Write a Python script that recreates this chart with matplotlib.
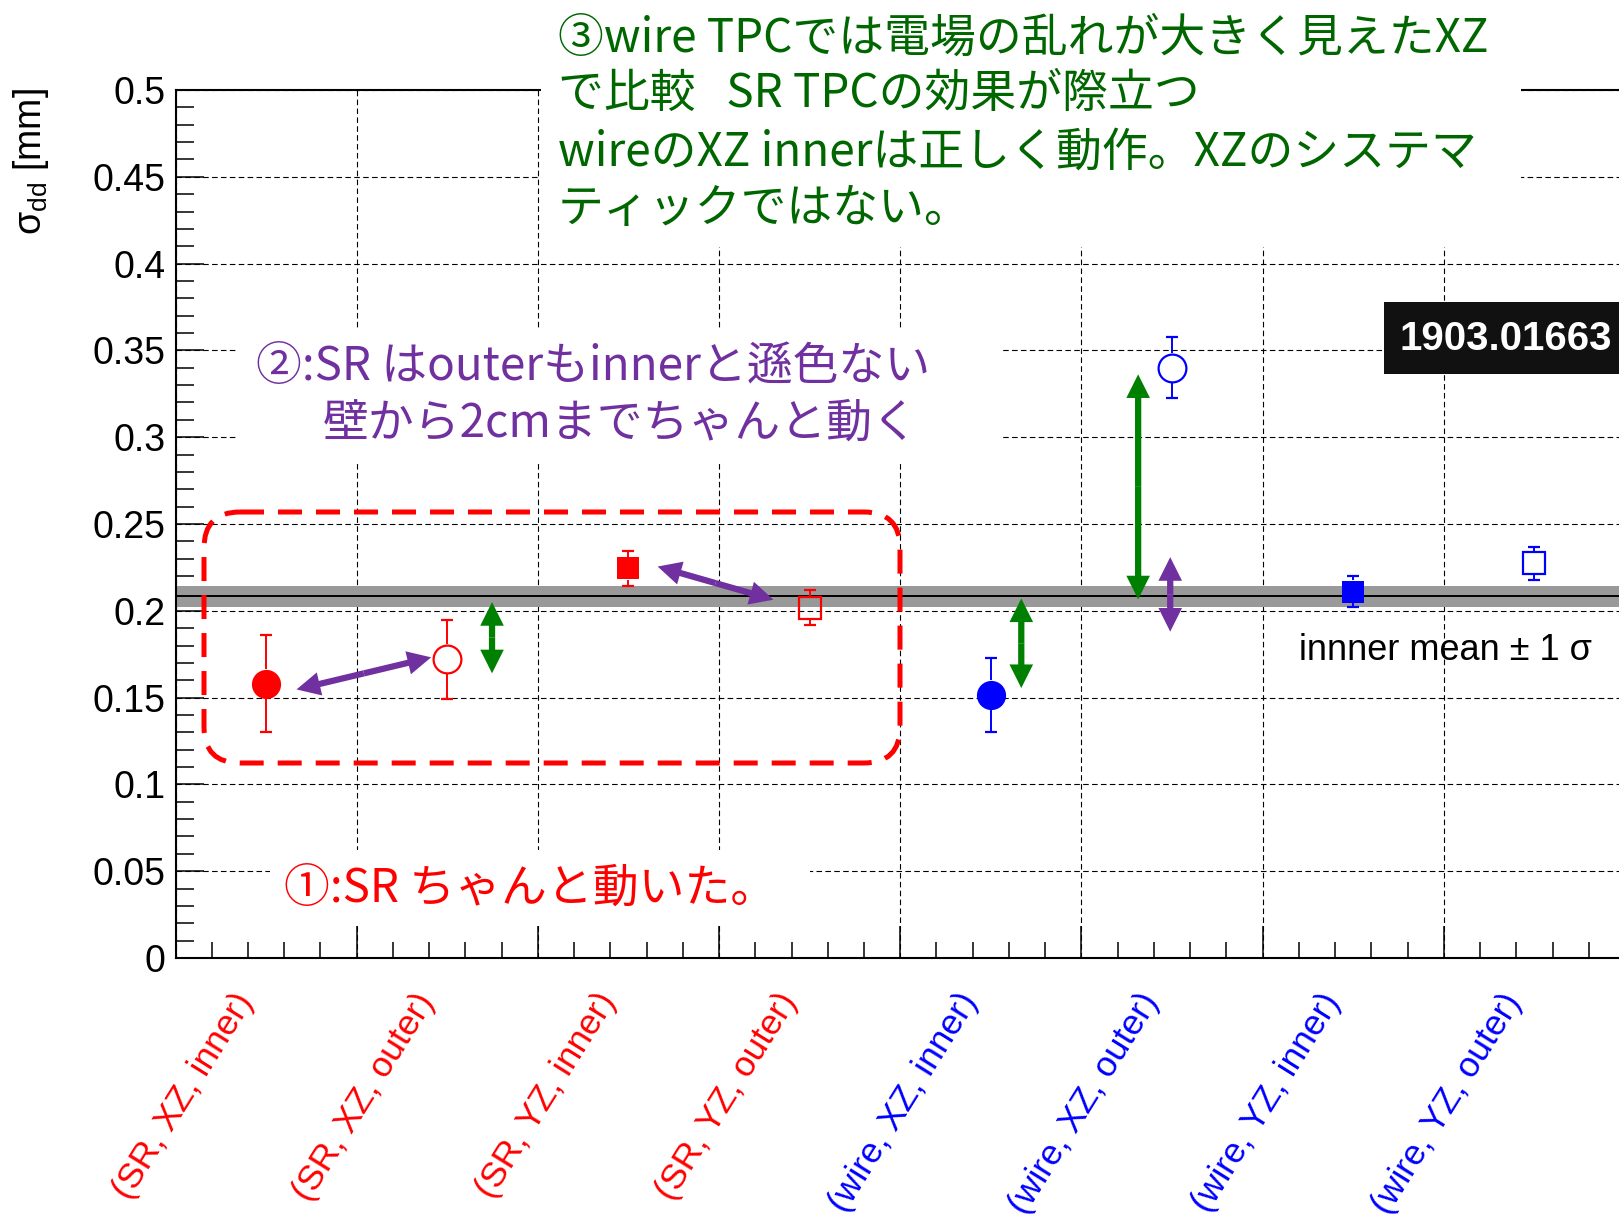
import matplotlib.pyplot as plt
import matplotlib.transforms as mtransforms
from matplotlib.patches import FancyArrowPatch, FancyBboxPatch, Rectangle
from matplotlib.ticker import MultipleLocator, FuncFormatter

plt.rcParams['font.family'] = ['Liberation Sans', 'DejaVu Sans']
plt.rcParams['mathtext.default'] = 'regular'

# 測定条件 (TPCの種類, 面, 領域)
tpc_types = ['SR', 'SR', 'SR', 'SR', 'wire', 'wire', 'wire', 'wire']
planes = ['XZ', 'XZ', 'YZ', 'YZ', 'XZ', 'XZ', 'YZ', 'YZ']
regions = ['inner', 'outer', 'inner', 'outer', 'inner', 'outer', 'inner', 'outer']

# sigma_dd [mm] と誤差
sigma_dd = [0.158, 0.172, 0.2245, 0.2017, 0.1515, 0.340, 0.211, 0.2273]
sigma_dd_err = [0.028, 0.0228, 0.010, 0.0101, 0.0215, 0.0175, 0.009, 0.0096]

# inner の平均 ± 1σ
inner_mean = 0.2083
inner_std = 0.006

categories = [f'({t}, {p}, {r})' for t, p, r in zip(tpc_types, planes, regions)]

W, H, DPI = 1619, 1217, 100
fig = plt.figure(figsize=(W / DPI, H / DPI), dpi=DPI)
# 画像のピクセル座標 (左上が原点)
px = mtransforms.Affine2D().scale(1 / DPI, -1 / DPI).translate(0, H / DPI) + fig.dpi_scale_trans

ax_left, ax_right, ax_top, ax_bottom = 175.5, 1625, 90, 958
ax = fig.add_axes([ax_left / W, 1 - ax_bottom / H, (ax_right - ax_left) / W, (ax_bottom - ax_top) / H])
ax.set_xlim(0, len(categories))
ax.set_ylim(0, 0.5)
ax.set_axisbelow(True)

# 軸とグリッド
ax.xaxis.set_major_locator(MultipleLocator(1))
ax.xaxis.set_minor_locator(MultipleLocator(0.2))
ax.yaxis.set_major_locator(MultipleLocator(0.05))
ax.yaxis.set_minor_locator(MultipleLocator(0.01))
ax.yaxis.set_major_formatter(FuncFormatter(lambda v, p: f'{v:g}'))
ax.tick_params(axis='x', which='major', direction='in', length=23, width=1.1, labelbottom=False)
ax.tick_params(axis='x', which='minor', direction='in', length=11.5, width=1.1)
ax.tick_params(axis='y', which='major', direction='in', length=20, width=1.1, labelsize=27, pad=7)
ax.tick_params(axis='y', which='minor', direction='in', length=13, width=1.1)
for s in ax.spines.values():
    s.set_linewidth(1.5)
ax.grid(True, which='major', color='black', lw=0.8, ls=(0, (5, 3)))

# inner mean ± 1σ の帯
ax.axhspan(inner_mean - inner_std, inner_mean + inner_std, color='#999999', lw=0, zorder=1)
ax.axhline(inner_mean, color='black', lw=1.4, zorder=1.5)

# 点と誤差棒 (白抜きマーカーの中は線を描かない)
colors = {'SR': '#ff0000', 'wire': '#0000ff'}
y_per_px = 0.5 / (ax_bottom - ax_top)
x_per_px = len(categories) / (ax_right - ax_left)
for i, (t, p, r) in enumerate(zip(tpc_types, planes, regions)):
    x = i + 0.5
    y = sigma_dd[i]
    e = sigma_dd_err[i]
    c = colors[t]
    is_circle = p == 'XZ'
    is_open = r == 'outer'
    half = (15 if is_circle else 11.5) * y_per_px
    ax.vlines([x, x], [y - e, y + half], [y - half, y + e], color=c, lw=1.4, zorder=3)
    cap = 6 * x_per_px
    ax.hlines([y - e, y + e], x - cap, x + cap, color=c, lw=1.6, zorder=3)
    ax.plot(x, y, marker='o' if is_circle else 's',
            ms=(20 if is_circle else 15.5) if is_open else (21 if is_circle else 16.5),
            mfc='none' if is_open else c, mec=c, mew=1.6 if is_open else 0, zorder=4)

# x軸ラベル
lab_tr = ax.get_xaxis_transform() + mtransforms.ScaledTranslation(-20 / DPI, -38 / DPI, fig.dpi_scale_trans)
for i, lab in enumerate(categories):
    ax.text(i + 0.5, 0, lab, transform=lab_tr, rotation=58, rotation_mode='anchor',
            ha='right', va='center', fontsize=25.5, color=colors[tpc_types[i]])

fig.text(31, 88, r'σ$_{dd}$ [mm]', transform=px, rotation=90, ha='center', va='top', fontsize=27)

ax.text(1299, 650, 'innner mean ± 1 σ', transform=px, ha='left', va='center', fontsize=26, zorder=6)


# 両矢印
def double_arrow(p0, p1, color):
    mid = ((p0[0] + p1[0]) / 2, (p0[1] + p1[1]) / 2)
    for end in (p0, p1):
        ax.add_patch(FancyArrowPatch(mid, end, arrowstyle='simple,head_length=17,head_width=17,tail_width=4.5',
                                     mutation_scale=1, color=color, lw=0, shrinkA=0, shrinkB=0, zorder=5))


green = '#008000'
purple = '#7030a0'
double_arrow((1.747, 0.205), (1.747, 0.164), green)
double_arrow((4.668, 0.2071), (4.668, 0.1555), green)
double_arrow((5.313, 0.3362), (5.313, 0.2066), green)
double_arrow((5.49, 0.2309), (5.49, 0.188), purple)
double_arrow((0.668, 0.1547), (1.411, 0.1732), purple)
double_arrow((2.661, 0.2255), (3.30, 0.2064), purple)

# 赤い点線の枠
fig.add_artist(FancyBboxPatch((204, 512), 696, 251, boxstyle='round,pad=0,rounding_size=36', transform=px,
                              fill=False, ec='#ff0000', lw=3.6, ls=(0, (4.8, 2.8)), zorder=2.5))

# コメント (白い背景)
for x0, y0, w, h in [(541, 0, 980, 247), (237, 330, 765, 133), (270, 850, 540, 76)]:
    fig.add_artist(Rectangle((x0, y0), w, h, transform=px, fc='white', ec='none', zorder=2))

jp = ['Noto Sans CJK JP', 'DejaVu Sans']
green_lines = ['③wire TPCでは電場の乱れが大きく見えたXZ',
               'で比較   SR TPCの効果が際立つ',
               'wireのXZ innerは正しく動作。XZのシステマ',
               'ティックではない。']
for yy, line in zip([38, 94, 152, 209], green_lines):
    fig.text(558, yy, line, transform=px, ha='left', va='center', fontsize=33, family=jp,
             color='#006600', zorder=3)

fig.text(256, 367, '②:SR はouterもinnerと遜色ない', transform=px, ha='left', va='center',
         fontsize=33, family=jp, color=purple, zorder=3)
fig.text(323, 423, '壁から2cmまでちゃんと動く', transform=px, ha='left', va='center',
         fontsize=33, family=jp, color=purple, zorder=3)
fig.text(284, 888, '①:SR ちゃんと動いた。', transform=px, ha='left', va='center',
         fontsize=33, family=jp, color='#ff0000', zorder=3)

# arXiv 番号のラベル
fig.add_artist(Rectangle((1384, 302), 240, 72, transform=px, fc='#111111', ec='none', zorder=2))
fig.text(1400, 339, '1903.01663', transform=px, ha='left', va='center', fontsize=29,
         fontweight='bold', color='white', zorder=3)

fig.savefig('out.png', dpi=DPI)
